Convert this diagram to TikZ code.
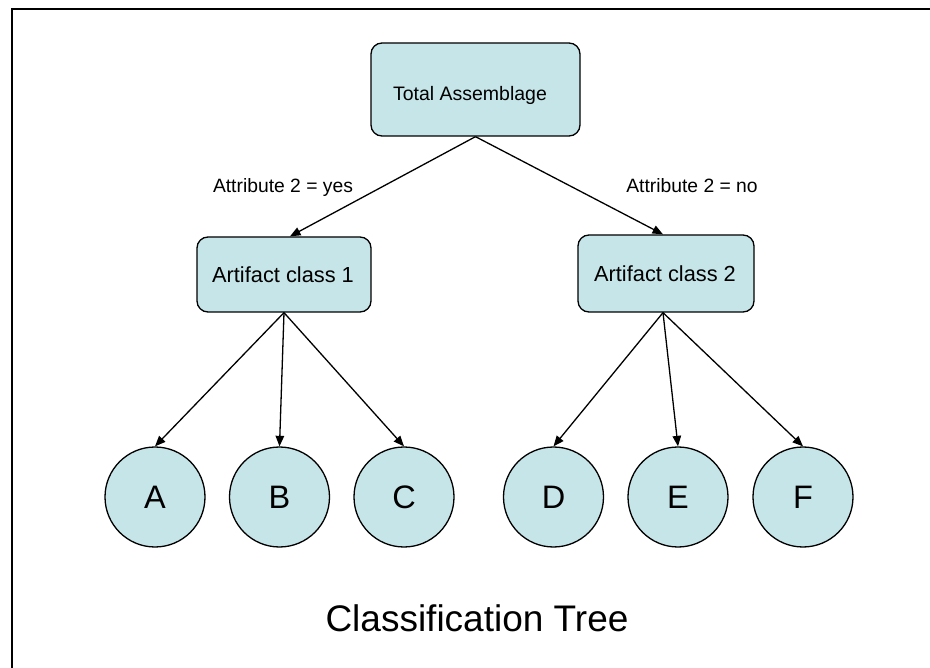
\documentclass[tikz,border=0pt]{standalone}
\usepackage{fontspec}
\setmainfont{Liberation Sans}
\usetikzlibrary{arrows.meta}
\definecolor{nodefill}{RGB}{198,229,232}
\tikzset{
  x=1pt, y=-1pt,
  box/.style={draw=black, line width=1.3pt, fill=nodefill, rounded corners=11pt,
    inner sep=0pt, anchor=center},
  boxtext/.style={inner sep=0pt, anchor=base},
  leaf/.style={draw=black, line width=1.3pt, fill=nodefill, circle,
    minimum size=100pt, inner sep=0pt, font=\fontsize{32.5}{36}\selectfont},
  link/.style={line width=1.3pt, -{Triangle[length=10.5pt,width=8.5pt]}},
  cond/.style={font=\fontsize{19.3}{22}\selectfont, inner sep=0pt, anchor=base}
}
\begin{document}
\begin{tikzpicture}
  \useasboundingbox (0,0) rectangle (930,668);
  % page frame, only its top and left edges fall inside the picture
  \begin{scope}
    \clip (0,0) rectangle (930,668);
    \draw[line width=2.2pt] (12,700) -- (12,9) -- (960,9);
  \end{scope}

  % root and class boxes
  \node[box, minimum width=209pt, minimum height=93pt] (root) at (475.5,89.5) {};
  \node[box, minimum width=174pt, minimum height=75pt] (c1) at (284,274.5) {};
  \node[box, minimum width=176pt, minimum height=77pt] (c2) at (666,273.5) {};
  \node[boxtext, font=\fontsize{19.5}{22}\selectfont] (roottext) at (470,100.5) {Total Assemblage};
  \node[boxtext, font=\fontsize{21.8}{26}\selectfont] (c1text) at (283,282.5) {Artifact class 1};
  \node[boxtext, font=\fontsize{21.8}{26}\selectfont] (c2text) at (665,281.8) {Artifact class 2};

  % leaves
  \node[leaf] (A) at (155,497) {A};
  \node[leaf] (B) at (279.5,497) {B};
  \node[leaf] (C) at (404,497) {C};
  \node[leaf] (D) at (553.5,497) {D};
  \node[leaf] (E) at (678,497) {E};
  \node[leaf] (F) at (803,497) {F};

  % branches
  \draw[link] (root.south) -- ([xshift=6pt]c1.north);
  \draw[link] (root.south) -- ([xshift=-3pt]c2.north);
  \draw[link] (c1.south) -- (A.north);
  \draw[link] (c1.south) -- (B.north);
  \draw[link] (c1.south) -- (C.north);
  \draw[link] ([xshift=-3pt]c2.south) -- (D.north);
  \draw[link] ([xshift=-3pt]c2.south) -- (E.north);
  \draw[link] ([xshift=-3pt]c2.south) -- (F.north);

  % branch conditions
  \node[cond] (yes) at (283,193) {Attribute 2 = yes};
  \node[cond] (no) at (692,193) {Attribute 2 = no};

  % caption
  \node[font=\fontsize{37}{42}\selectfont, inner sep=0pt, anchor=base] (title) at (477,631) {Classification Tree};
\end{tikzpicture}
\end{document}
